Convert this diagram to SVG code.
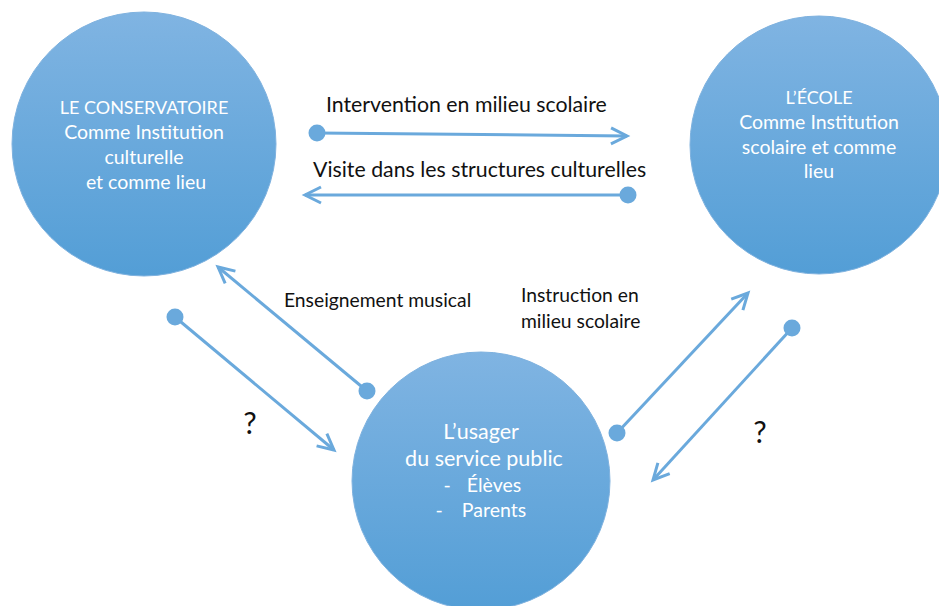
<svg xmlns="http://www.w3.org/2000/svg" width="939" height="606" viewBox="0 0 939 606">
<defs>
<linearGradient id="g" x1="0" y1="0" x2="0" y2="1">
<stop offset="0" stop-color="#80b4e2"/>
<stop offset="1" stop-color="#539ed6"/>
</linearGradient>
<marker id="arr" markerUnits="userSpaceOnUse" markerWidth="22" markerHeight="22" viewBox="0 0 22 22" refX="18" refY="11" orient="auto">
<path d="M2,3 L18,11 L2,19" fill="none" stroke="#6aa9dc" stroke-width="3" stroke-linejoin="miter"/>
</marker>
<style>
.node{fill:url(#g);stroke:#7fb2df;stroke-width:1}
.nt{font-family:Lato,"Liberation Sans",sans-serif;font-size:19.5px;fill:#ffffff;text-anchor:middle}
.cap{font-size:18px}
.big{font-size:21.5px}
.lbl{font-family:Lato,"Liberation Sans",sans-serif;font-size:19.3px;fill:#111111}
.top{font-size:21.3px}
.q{font-family:Lato,"Liberation Sans",sans-serif;font-size:30px;fill:#111111;text-anchor:middle}
.ln{stroke:#6aa9dc;stroke-width:3;fill:none;marker-end:url(#arr)}
.dot{fill:#6aa9dc}
</style>
</defs>
<g id="conservatoire">
<circle class="node" cx="144" cy="144" r="132"/>
<text class="nt cap" x="144" y="114">LE CONSERVATOIRE</text>
<text class="nt" x="144" y="139">Comme Institution</text>
<text class="nt" x="144" y="164">culturelle</text>
<text class="nt" x="146" y="189">et comme lieu</text>
</g>
<g id="ecole">
<circle class="node" cx="819" cy="145" r="129"/>
<text class="nt cap" x="819" y="104">L’ÉCOLE</text>
<text class="nt" x="819" y="129">Comme Institution</text>
<text class="nt" x="819" y="154">scolaire et comme</text>
<text class="nt" x="819" y="178">lieu</text>
</g>
<g id="usager">
<circle class="node" cx="481" cy="481" r="129"/>
<text class="nt big" x="481" y="439">L’usager</text>
<text class="nt big" x="484" y="466">du service public</text>
<text class="nt" x="447" y="492">-</text>
<text class="nt" x="494" y="492">Élèves</text>
<text class="nt" x="439" y="517">-</text>
<text class="nt" x="494" y="517">Parents</text>
</g>
<g id="connectors">
<line class="ln" x1="317" y1="133" x2="627" y2="136"/>
<circle class="dot" cx="317" cy="133" r="8.5"/>
<line class="ln" x1="628" y1="195" x2="305" y2="195"/>
<circle class="dot" cx="628" cy="195" r="8.5"/>
<line class="ln" x1="367" y1="391" x2="218" y2="267"/>
<circle class="dot" cx="367" cy="391" r="8.5"/>
<line class="ln" x1="175" y1="317" x2="334" y2="450"/>
<circle class="dot" cx="175" cy="317" r="8.5"/>
<line class="ln" x1="617" y1="433" x2="748" y2="293"/>
<circle class="dot" cx="617" cy="433" r="8.5"/>
<line class="ln" x1="792" y1="328" x2="653" y2="480"/>
<circle class="dot" cx="792" cy="328" r="8.5"/>
</g>
<g id="labels">
<text class="lbl top" x="326" y="112">Intervention en milieu scolaire</text>
<text class="lbl top" x="313" y="177">Visite dans les structures culturelles</text>
<text class="lbl" x="284" y="307">Enseignement musical</text>
<text class="lbl" x="521" y="302">Instruction en</text>
<text class="lbl" x="521" y="328">milieu scolaire</text>
<text class="q" x="250" y="434">?</text>
<text class="q" x="760" y="443">?</text>
</g>
</svg>
